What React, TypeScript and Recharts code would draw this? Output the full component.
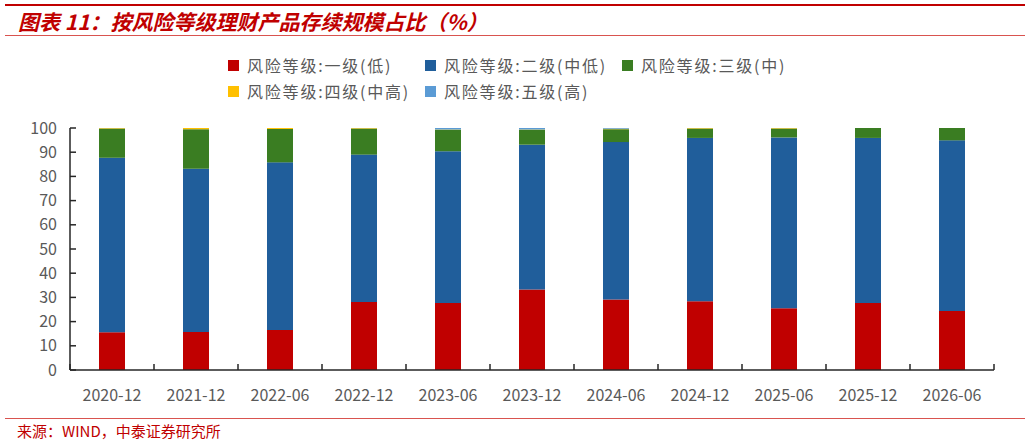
import React from 'react';
import { BarChart, Bar, XAxis, YAxis } from 'recharts';

const periods = ['2020-12', '2021-12', '2022-06', '2022-12', '2023-06', '2023-12', '2024-06', '2024-12', '2025-06', '2025-12', '2026-06'];

// 各风险等级占比（%），按期数顺序
const level1 = [15.6, 15.7, 16.5, 28.1, 27.7, 33.3, 29.1, 28.4, 25.5, 27.7, 24.4];
const level2 = [72.1, 67.5, 69.3, 60.9, 62.7, 59.8, 65.1, 67.5, 70.6, 68.2, 70.5];
const level3 = [12.1, 16.3, 13.8, 10.8, 8.9, 6.2, 5.3, 3.9, 3.7, 4.1, 5.1];
const level4 = [0.2, 0.5, 0.4, 0.2, 0.1, 0.1, 0.2, 0.2, 0.2, 0, 0];
const level5 = [0, 0, 0, 0, 0.6, 0.6, 0.3, 0, 0, 0, 0];

const yTicks = [0, 10, 20, 30, 40, 50, 60, 70, 80, 90, 100];

const series = [
  { key: 'l1', name: '风险等级:一级(低)', color: '#C00000', values: level1 },
  { key: 'l2', name: '风险等级:二级(中低)', color: '#205E9B', values: level2 },
  { key: 'l3', name: '风险等级:三级(中)', color: '#3A7D22', values: level3 },
  { key: 'l4', name: '风险等级:四级(中高)', color: '#FFC000', values: level4 },
  { key: 'l5', name: '风险等级:五级(高)', color: '#5B9BD5', values: level5 },
];

const data = periods.map((p, i) => {
  const row: any = { period: p, pos: i + 0.5 };
  series.forEach(s => { row[s.key] = s.values[i]; });
  return row;
});

// x 轴刻度：整数处画分隔短线，半格处写期数
const xTicks: number[] = [];
for (let i = 0; i <= periods.length; i++) {
  xTicks.push(i);
  if (i < periods.length) xTicks.push(i + 0.5);
}

const font = '"Noto Sans CJK SC", "Noto Sans", sans-serif';
const axisColor = '#262626';
const textColor = '#595959';

const XTick = (props: any) => {
  const { x, y, payload } = props;
  const v = payload.value;
  if (Number.isInteger(v)) {
    return <line x1={x} y1={y} x2={x} y2={y - 6} stroke={axisColor} strokeWidth={1.5} />;
  }
  const label = periods[Math.floor(v)];
  return (
    <text x={x} y={y + 24} textAnchor="middle" dominantBaseline="central" fill={textColor} fontSize={16} fontFamily={font}>
      {label}
    </text>
  );
};

const App = () => {
  return (
    <div style={{ position: 'absolute', left: 0, top: 0, width: 1031, height: 442, background: '#fff', fontFamily: font }}>
      {/* 标题 */}
      <div style={{ position: 'absolute', left: 5, right: 6, top: 4, height: 2, background: '#C00000' }} />
      <div style={{ position: 'absolute', left: 18, top: 7, fontSize: 21, fontWeight: 'bold', fontStyle: 'italic', color: '#C00000', whiteSpace: 'nowrap', lineHeight: '28px' }}>
        图表 11：按风险等级理财产品存续规模占比（%）
      </div>
      <div style={{ position: 'absolute', left: 5, right: 6, top: 35, height: 1, background: '#D9534F' }} />

      {/* 图例 */}
      <div style={{ position: 'absolute', left: 228, top: 54, width: 600 }}>
        {series.map((s, i) => (
          <div key={s.key} style={{ position: 'absolute', left: (i % 3) * 197, top: Math.floor(i / 3) * 26, display: 'flex', alignItems: 'center', whiteSpace: 'nowrap', height: 22 }}>
            <span style={{ display: 'inline-block', width: 11, height: 11, background: s.color, marginRight: 8 }} />
            <span style={{ fontSize: 16, color: textColor, letterSpacing: 1.8 }}>{s.name}</span>
          </div>
        ))}
      </div>

      <div style={{ position: 'absolute', left: 0, top: 0 }}>
        <BarChart width={1031} height={442} data={data} margin={{ top: 128, right: 37, bottom: 42, left: 20 }}>
          <XAxis
            dataKey="pos"
            type="number"
            domain={[0, periods.length]}
            ticks={xTicks}
            interval={0}
            height={30}
            tickSize={0}
            tickMargin={0}
            tickLine={false}
            tick={<XTick />}
            axisLine={{ stroke: axisColor, strokeWidth: 1.5 }}
          />
          <YAxis
            domain={[0, 100]}
            ticks={yTicks}
            interval={0}
            width={50}
            tickSize={-6}
            tickMargin={19}
            tick={{ fill: textColor, fontSize: 16, fontFamily: font }}
            tickLine={{ stroke: axisColor, strokeWidth: 1.5 }}
            axisLine={{ stroke: axisColor, strokeWidth: 1.5 }}
          />
          {series.map(s => (
            <Bar key={s.key} dataKey={s.key} name={s.name} stackId="a" fill={s.color} barSize={26} isAnimationActive={false} />
          ))}
        </BarChart>
      </div>

      {/* 来源 */}
      <div style={{ position: 'absolute', left: 5, right: 6, top: 418, height: 1, background: '#D9534F' }} />
      <div style={{ position: 'absolute', left: 17, top: 421, fontSize: 15, color: '#C00000', whiteSpace: 'nowrap', lineHeight: '20px' }}>
        来源：WIND，中泰证券研究所
      </div>
    </div>
  );
};

export default App;
